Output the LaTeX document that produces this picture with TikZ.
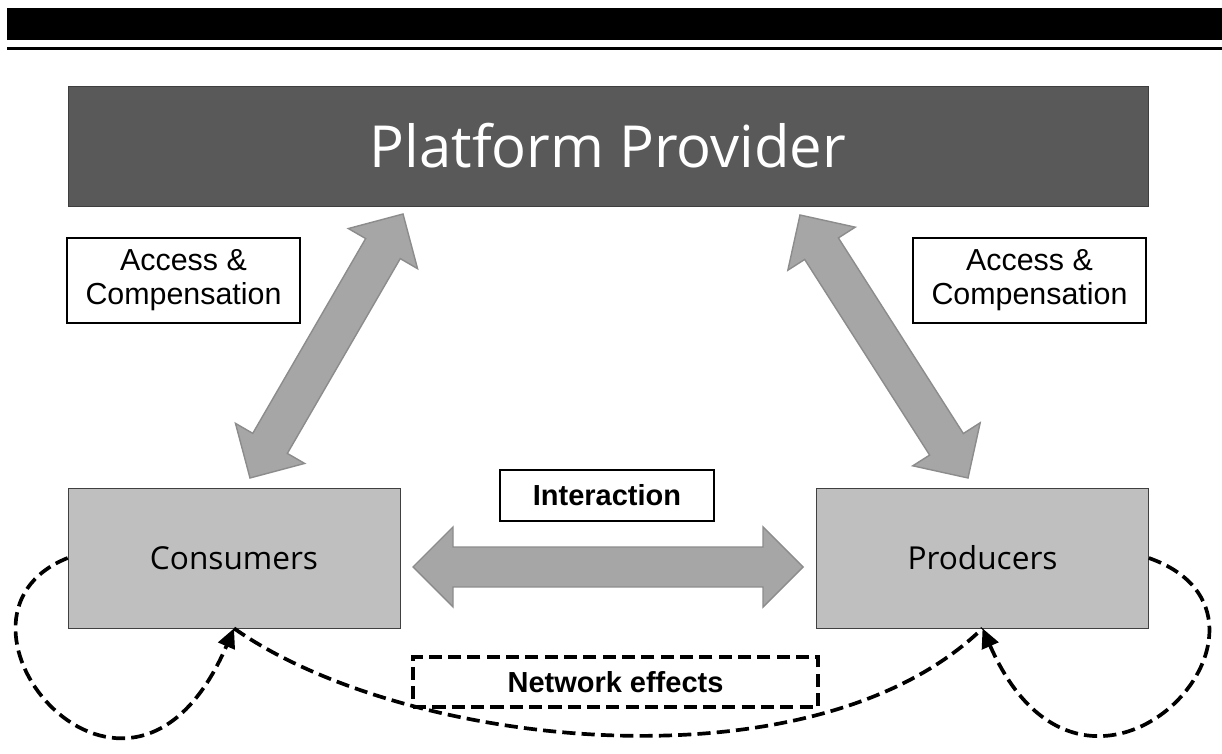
\documentclass[tikz,border=0pt]{standalone}
\usepackage{fontspec}
\setmainfont{Liberation Sans}
\newfontfamily\shapefont{Open Sans}
\usetikzlibrary{calc,arrows.meta}

\definecolor{provgray}{HTML}{595959}
\definecolor{partygray}{HTML}{BFBFBF}
\definecolor{fatgray}{HTML}{A6A6A6}
\definecolor{fatedge}{HTML}{8C8C8C}

% broad double arrow between two named points
\newcommand{\fatarrow}[2]{%
  \coordinate (fa1) at ($(#1)!0.8cm!(#2)$);
  \coordinate (fa2) at ($(#2)!0.8cm!(#1)$);
  \draw[fat] (#1) -- ($(fa1)!0.8cm!90:(#1)$) -- ($(fa1)!0.4cm!90:(#1)$)
    -- ($(fa2)!0.4cm!-90:(#2)$) -- ($(fa2)!0.8cm!-90:(#2)$) -- (#2)
    -- ($(fa2)!0.8cm!90:(#2)$) -- ($(fa2)!0.4cm!90:(#2)$)
    -- ($(fa1)!0.4cm!-90:(#1)$) -- ($(fa1)!0.8cm!-90:(#1)$) -- cycle;}

\begin{document}
\begin{tikzpicture}[x=0.02cm, y=0.02cm,
  provider/.style={draw=provgray!70!black, fill=provgray, text=white, minimum width=21.6cm, minimum height=2.4cm, font=\shapefont\fontsize{33}{38}\selectfont},
  party/.style={draw=black!75, fill=partygray, minimum width=6.64cm, minimum height=2.8cm, font=\shapefont\fontsize{18}{22}\selectfont},
  infobox/.style={draw, fill=white, line width=1.1pt, align=center, minimum width=4.66cm, minimum height=1.7cm, font=\fontsize{17.3}{19.5}\selectfont},
  tagbox/.style={draw, fill=white, line width=1.1pt, font=\bfseries\fontsize{16.5}{19}\selectfont},
  fat/.style={fill=fatgray, draw=fatedge, line width=0.8pt, line join=miter},
  effect/.style={dash pattern=on 7.5pt off 3.5pt, line width=2.1pt},
  loopback/.style={effect, -{Triangle[length=11pt,width=10pt]}}
]
\useasboundingbox (0,0) rectangle (1222,753);

% header bars
\fill (7,713) rectangle (1222,745);
\fill (7,703) rectangle (1222,706);

\node[provider] (plat) at (608,607) {Platform Provider};
\node[infobox] (accl) at (183.5,472.5) {Access \&\\Compensation};
\node[infobox] (accr) at (1029.5,472.5) {Access \&\\Compensation};
\node[party] (cons) at (234,195) {Consumers};
\node[party] (prod) at (982.5,195) {Producers};
\node[tagbox, minimum width=4.28cm, minimum height=1.02cm] (inter) at (607,257.5) {Interaction};
\node[tagbox, dash pattern=on 7.5pt off 3.5pt, line width=2pt, minimum width=8.1cm, minimum height=1cm] (net) at (615.5,71) {Network effects};

% arrow tips
\coordinate (lb) at (250,275);
\coordinate (lt) at (403,539);
\coordinate (rb) at (968,275);
\coordinate (rt) at (800,538);
\coordinate (hl) at (413,186);
\coordinate (hr) at (803,186);

\fatarrow{lb}{lt}
\fatarrow{rb}{rt}
\fatarrow{hl}{hr}

% network effects
\draw[effect] (cons.south) .. controls +(170,-120) and +(-170,-165) .. (prod.south);
\draw[loopback] (cons.west) .. controls +(-150,-60) and +(-105,-245) .. (cons.south);
\draw[loopback] (prod.east) .. controls +(170,-60) and +(105,-240) .. (prod.south);
\end{tikzpicture}
\end{document}
